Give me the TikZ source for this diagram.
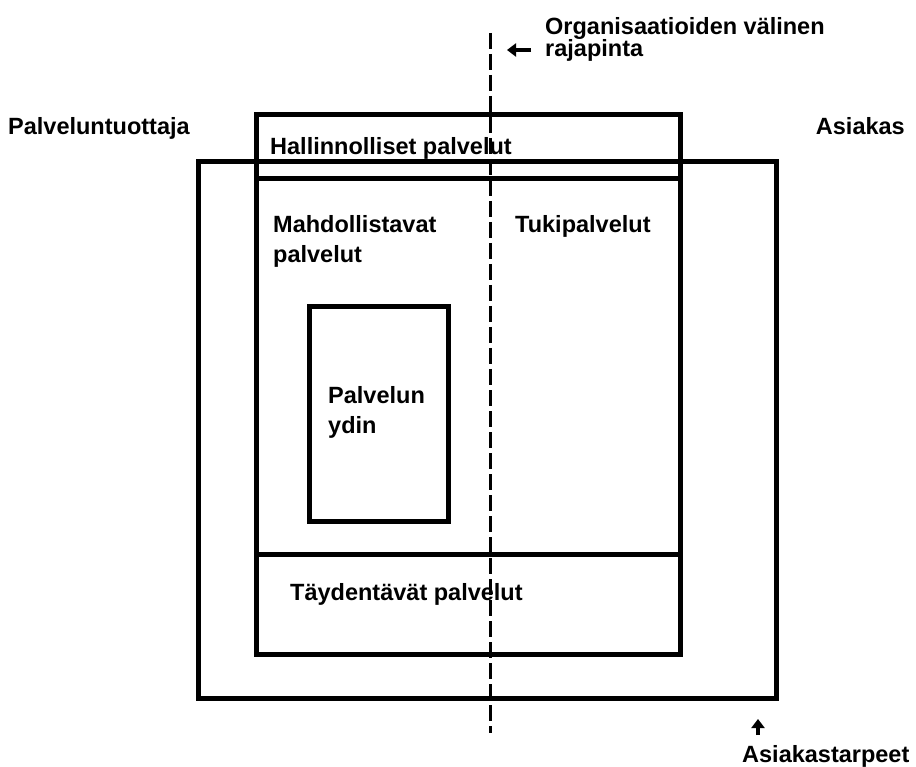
\documentclass[tikz,border=0pt]{standalone}
\usepackage{fontspec}
\setmainfont{Liberation Sans}
\usetikzlibrary{arrows.meta}
\begin{document}
\begin{tikzpicture}[x=1pt,y=-1pt,
  box/.style={draw,line width=5pt},
  lbl/.style={inner sep=0pt,font=\fontsize{23.5}{30}\selectfont\bfseries,align=left},
  divide/.style={draw,line width=3pt,dash pattern=on 16pt off 5pt},
  smallarrow/.style={line width=4.5pt,-{Triangle[length=9pt,width=13pt]}}]
\useasboundingbox (0,0) rectangle (916,767);
% boxes
\draw[box] (198,162) rectangle (776,698);
\draw[box] (256,115) rectangle (680,179);
\draw[box] (256,179) rectangle (680,654);
\draw[box] (256,554) -- (680,554);
\draw[box] (309,307) rectangle (448,521);
% labels
\node[lbl,anchor=base west] (org) at (545,35) {Organisaatioiden välinen};
\node[lbl,anchor=base west] (raja) at (545,57) {rajapinta};
\node[lbl,anchor=base west] (tuott) at (8,135) {Palveluntuottaja};
\node[lbl,anchor=base east] (asiakas) at (905,135) {Asiakas};
\node[lbl,anchor=base west] (hall) at (270,155) {Hallinnolliset palvelut};
\node[lbl,anchor=north west] (mahd) at (273,215) {Mahdollistavat\\palvelut};
\node[lbl,anchor=north west] (tuki) at (515,215) {Tukipalvelut};
\node[lbl,anchor=north west] (ydin) at (328,386) {Palvelun\\ydin};
\node[lbl,anchor=base west] (tayd) at (290,600) {Täydentävät palvelut};
\node[lbl,anchor=base west] (tarp) at (742,762) {Asiakastarpeet};
% arrows
\coordinate (la) at (531,50);
\coordinate (lb) at (507,50);
\draw[smallarrow] (la) -- (lb);
\coordinate (ua) at (758,735);
\coordinate (ub) at (758,719);
\draw[smallarrow] (ua) -- (ub);
% dashed interface line
\coordinate (dtop) at (490,33);
\coordinate (dbot) at (490,733);
\draw[divide] (dtop) -- (dbot);
\end{tikzpicture}
\end{document}
